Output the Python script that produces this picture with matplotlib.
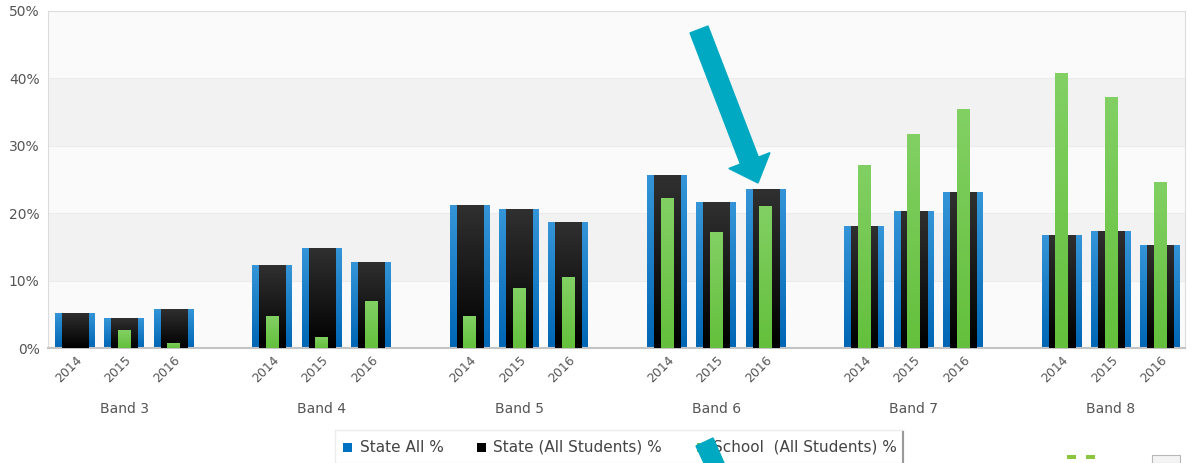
import numpy as np
import matplotlib.pyplot as plt
import matplotlib.patches as patches
from matplotlib.colors import LinearSegmentedColormap
from matplotlib.transforms import blended_transform_factory

# Data
bands = ['Band 3', 'Band 4', 'Band 5', 'Band 6', 'Band 7', 'Band 8']
years = ['2014', '2015', '2016']
state_all = [5.2, 4.4, 5.8, 12.3, 14.9, 12.8, 21.2, 20.6, 18.7,
             25.7, 21.7, 23.6, 18.1, 20.4, 23.1, 16.8, 17.4, 15.3]
state_students = [5.2, 4.4, 5.8, 12.3, 14.9, 12.8, 21.2, 20.6, 18.7,
                  25.7, 21.7, 23.6, 18.1, 20.4, 23.1, 16.8, 17.4, 15.3]
school = [0.0, 2.6, 0.8, 4.7, 1.7, 6.9, 4.7, 8.9, 10.5,
          22.2, 17.2, 21.1, 27.2, 31.8, 35.4, 40.8, 37.3, 24.7]
legend_labels = ['State All %', 'State (All Students) %', 'School  (All Students) %']
legend_colors = ['#0070c0', '#000000', '#6cc54a']

xpos = [4 * i + j for i in range(len(bands)) for j in range(len(years))]
xlabels = [y for _ in bands for y in years]

W, H = 1195, 463
fig = plt.figure(figsize=(W / 100, H / 100), dpi=100)
ax = fig.add_axes([48 / W, (H - 348) / H, (1185 - 48) / W, (348 - 11) / H])


def px(x, y):
    # pixel position (from top-left) -> figure fraction
    return (x / W, 1 - y / H)


ax.set_xlim(-0.55, 22.5)
ax.set_ylim(0, 50)
ax.set_facecolor('#fafafa')
for lo in (10, 30):
    ax.axhspan(lo, lo + 10, color='#f2f2f2', zorder=0, lw=0)
for y in (10, 20, 30, 40):
    ax.axhline(y, color='#ececec', lw=0.8, zorder=0)


def gradient_bars(bars, top, bottom):
    # fill each bar with a vertical gradient clipped to its rectangle
    cmap = LinearSegmentedColormap.from_list('g', [bottom, top])
    grad = np.linspace(0, 1, 64).reshape(-1, 1)
    for b in bars:
        x, y = b.get_x(), b.get_y()
        w, h = b.get_width(), b.get_height()
        if h <= 0:
            continue
        im = ax.imshow(grad, cmap=cmap, origin='lower', aspect='auto',
                       extent=(x, x + w, y, y + h), zorder=b.get_zorder())
        im.set_clip_path(b)


b1 = ax.bar(xpos, state_all, width=0.81, color='#1a7cc6', zorder=2)
gradient_bars(b1, '#3595d8', '#0066b4')
b2 = ax.bar(xpos, state_students, width=0.53, color='#111111', zorder=3)
gradient_bars(b2, '#303030', '#000000')
b3 = ax.bar(xpos, school, width=0.26, color='#72c850', zorder=4)
gradient_bars(b3, '#82d064', '#64c03c')

# axes styling
for s in ('left', 'top', 'right'):
    ax.spines[s].set_color('#dcdcdc')
ax.spines['bottom'].set_color('#c4c4c4')
ax.spines['bottom'].set_linewidth(1.5)
ax.set_yticks([0, 10, 20, 30, 40, 50])
ax.set_yticklabels([f'{v}%' for v in range(0, 60, 10)], fontsize=10, color='#555555')
ax.tick_params(axis='y', length=0, pad=6)
ax.set_xticks(xpos)
ax.set_xticklabels(xlabels, rotation=45, ha='right', rotation_mode='anchor',
                   fontsize=9, color='#555555')
ax.tick_params(axis='x', length=0, pad=4)

trans = blended_transform_factory(ax.transData, ax.transAxes)
for i, band in enumerate(bands):
    ax.text(4 * i + 1, -0.181, band, transform=trans, ha='center', va='center',
            fontsize=10, color='#555555')

# legend box (runs off the bottom of the image)
fig.add_artist(patches.Rectangle(px(335, 463), (903 - 335) / W, 33 / H,
                                 transform=fig.transFigure, facecolor='white',
                                 edgecolor='#ececec', lw=1))
fig.add_artist(plt.Line2D([903 / W, 903 / W], [0, 1 - 432 / H], color='#9a9a9a', lw=1.5))
square_x = [343, 477, 697]
text_x = [360, 493, 713]
for sx, tx, lab, col in zip(square_x, text_x, legend_labels, legend_colors):
    fig.add_artist(patches.Rectangle(px(sx, 452), 9 / W, 9 / H, transform=fig.transFigure,
                                     facecolor=col, edgecolor='none'))
    fig.text(tx / W, 1 - 447.5 / H, lab, fontsize=11, color='#444444', va='center')

# cyan arrows drawn over the chart
cyan = '#00a9c2'
tail = np.array([699.0, 29.5])
tip = np.array([758.0, 183.0])
u = (tip - tail) / np.linalg.norm(tip - tail)
n = np.array([u[1], -u[0]])
base = tip - 24 * u
pts = [tail + 9.6 * n, base + 9.6 * n, base + 22 * n, tip,
       base - 22 * n, base - 9.6 * n, tail - 9.6 * n]
fig.add_artist(patches.Polygon([px(*p) for p in pts], closed=True, color=cyan,
                               transform=fig.transFigure, zorder=10))
fig.add_artist(patches.Polygon([px(696, 446), px(713, 438), px(724, 463), px(704, 463)],
                               closed=True, color=cyan, transform=fig.transFigure, zorder=10))

# stray page fragments at the bottom right
for gx in (1067, 1086):
    fig.add_artist(patches.Rectangle(px(gx, 459), 9 / W, 4 / H, transform=fig.transFigure,
                                     facecolor='#8cc63e', edgecolor='none'))
fig.add_artist(patches.Rectangle(px(1152, 463), 28 / W, 8 / H, transform=fig.transFigure,
                                 facecolor='#f4f4f4', edgecolor='#b8b8b8', lw=0.8))

fig.savefig('out.png', dpi=100, facecolor='white')
